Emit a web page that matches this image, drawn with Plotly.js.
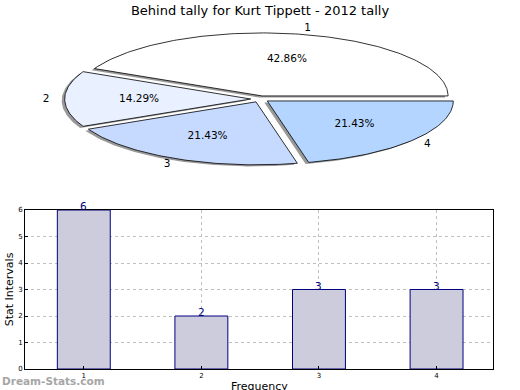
<!DOCTYPE html>
<html>
<head>
<meta charset="utf-8">
<script src="https://cdn.plot.ly/plotly-3.0.1.min.js"></script>
<style>html,body{margin:0;padding:0;background:#fff;}#chart{width:520px;height:390px;}</style>
</head>
<body>
<div id="chart"></div>
<script>
// ---- data ----
const categories = ["1", "2", "3", "4"];
const values = [6, 2, 3, 3];
const sliceColors = ["#ffffff", "#e9f0ff", "#c6d9ff", "#b3d5ff"];
const chartTitle = "Behind tally for Kurt Tippett - 2012 tally";
const yTitle = "Stat Intervals";
const xTitle = "Frequency";
const watermark = "Dream-Stats.com";

// ---- pie geometry (pixel space of pie axes) ----
const cx = 260, cy = 99, ra = 186, rb = 63, explode = 0.05;
const shadowDx = -3, shadowDy = 1.6;
const total = values.reduce((s, v) => s + v, 0);

const traces = [];
const wedges = [];
let start = 0;
values.forEach((v, i) => {
  const span = 360 * v / total;
  const a0 = start, a1 = start + span;
  const mid = (a0 + a1) / 2 * Math.PI / 180;
  const ox = explode * ra * Math.cos(mid), oy = -explode * rb * Math.sin(mid);
  const xs = [cx + ox], ys = [cy + oy];
  const n = Math.max(8, Math.ceil(span));
  for (let k = 0; k <= n; k++) {
    const t = (a0 + (a1 - a0) * k / n) * Math.PI / 180;
    xs.push(cx + ox + ra * Math.cos(t));
    ys.push(cy + oy - rb * Math.sin(t));
  }
  xs.push(cx + ox); ys.push(cy + oy);
  wedges.push({xs, ys, mid, i, v});
  start = a1;
});
// shadows first
wedges.forEach(w => {
  traces.push({
    type: "scatter", mode: "lines", xaxis: "x2", yaxis: "y2",
    x: w.xs.map(x => x + shadowDx), y: w.ys.map(y => y + shadowDy),
    fill: "toself", fillcolor: "rgba(70,70,70,0.55)",
    line: {width: 0}, hoverinfo: "skip", showlegend: false
  });
});
wedges.forEach(w => {
  traces.push({
    type: "scatter", mode: "lines", xaxis: "x2", yaxis: "y2",
    x: w.xs, y: w.ys, fill: "toself", fillcolor: sliceColors[w.i],
    line: {color: "#000000", width: 0.8}, hoverinfo: "skip", showlegend: false
  });
});
// labels
const pctX = [], pctY = [], pctT = [], labX = [], labY = [];
wedges.forEach(w => {
  const c = Math.cos(w.mid), s = Math.sin(w.mid);
  pctX.push(cx + (0.6 + explode) * ra * c);
  pctY.push(cy - (0.6 + explode) * rb * s);
  pctT.push((100 * w.v / total).toFixed(2) + "%");
  labX.push(cx + (1.1 + explode) * ra * c);
  labY.push(cy - (1.1 + explode) * rb * s);
});
traces.push({
  type: "scatter", mode: "text", xaxis: "x2", yaxis: "y2",
  x: pctX, y: pctY, text: pctT,
  textfont: {family: "DejaVu Sans", size: 10.5, color: "#000"},
  hoverinfo: "skip", showlegend: false, cliponaxis: false
});
traces.push({
  type: "scatter", mode: "text", xaxis: "x2", yaxis: "y2",
  x: labX, y: labY, text: categories,
  textfont: {family: "DejaVu Sans", size: 10.5, color: "#000"},
  hoverinfo: "skip", showlegend: false, cliponaxis: false
});

// ---- bar chart ----
traces.push({
  type: "bar", x: categories.map(Number), y: values, width: 0.45,
  marker: {color: "#ccccdd", line: {color: "#000080", width: 1}},
  showlegend: false, hoverinfo: "skip"
});

const W = 520, H = 390;
const barLabels = values.map((v, i) => ({
  text: String(v), xref: "x", yref: "y", x: Number(categories[i]), y: v,
  xanchor: "center", yanchor: "bottom", yshift: -4, showarrow: false,
  font: {family: "DejaVu Sans", size: 10.5, color: "#000080"}
}));

const layout = {
  width: W, height: H,
  margin: {l: 0, r: 0, t: 0, b: 0},
  paper_bgcolor: "#ffffff", plot_bgcolor: "rgba(0,0,0,0)",
  font: {family: "DejaVu Sans", color: "#000"},
  title: {text: chartTitle, font: {family: "DejaVu Sans", size: 13, color: "#000"},
          x: 0.5, xanchor: "center", y: 1 - 10 / H, yanchor: "middle"},
  bargap: 0,
  xaxis: {
    domain: [25 / W, 493 / W], anchor: "y", range: [0.5, 4.48],
    tickvals: [1, 2, 3, 4], ticktext: categories,
    showline: true, mirror: true, linecolor: "#000", linewidth: 1,
    ticks: "inside", ticklen: 3, tickcolor: "#000",
    showgrid: true, gridcolor: "#c0c0c0", griddash: "dot", gridwidth: 1,
    zeroline: false, tickfont: {size: 7, family: "DejaVu Sans"},
    automargin: false
  },
  yaxis: {
    domain: [21 / H, 180 / H], anchor: "x", range: [0, 6],
    tickvals: [0, 1, 2, 3, 4, 5, 6],
    showline: true, mirror: true, linecolor: "#000", linewidth: 1,
    ticks: "inside", ticklen: 3, tickcolor: "#000",
    showgrid: true, gridcolor: "#c0c0c0", griddash: "dot", gridwidth: 1,
    zeroline: false, tickfont: {size: 7, family: "DejaVu Sans"},
    title: {text: yTitle, font: {size: 11, family: "DejaVu Sans"}, standoff: 2},
    automargin: false
  },
  xaxis2: {domain: [0, 1], anchor: "y2", range: [0, W], visible: false, fixedrange: true},
  yaxis2: {domain: [0, 1], anchor: "x2", range: [H, 0], visible: false, fixedrange: true},
  annotations: barLabels.concat([{
    text: xTitle, xref: "paper", yref: "paper",
    x: (25 + 493) / 2 / W, y: 1 - 378 / H, xanchor: "center", yanchor: "top", showarrow: false,
    font: {family: "DejaVu Sans", size: 11, color: "#000"}
  }, {
    text: "<b>" + watermark + "</b>", xref: "paper", yref: "paper",
    x: 0, y: 1 - 381 / H, xanchor: "left", yanchor: "middle", showarrow: false,
    font: {family: "DejaVu Sans", size: 10.5, color: "#a6a6a6"}
  }])
};

Plotly.newPlot("chart", traces, layout, {displayModeBar: false, staticPlot: true});
</script>
</body>
</html>
